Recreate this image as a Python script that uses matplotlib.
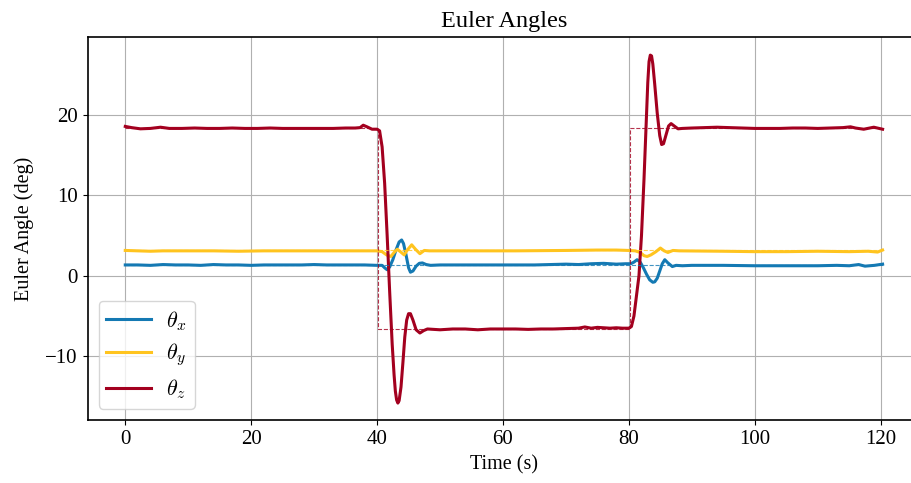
import matplotlib
matplotlib.use("Agg")
import matplotlib.pyplot as plt

plt.rcParams['font.family'] = 'serif'
plt.rcParams['font.serif'] = ['Liberation Serif']
plt.rcParams['mathtext.fontset'] = 'cm'

t_x = [0, 2, 4, 6, 8, 10, 12, 14, 16, 18, 20, 22, 24, 26, 28, 30, 32, 34, 36, 38, 40,
       40.8, 41.2, 41.6, 42.0, 42.5, 43.0, 43.5, 43.9, 44.2, 44.6, 45.0, 45.3, 45.7, 46.2,
       46.7, 47.2, 47.8, 48.5, 50, 55, 60, 65, 70, 72, 74, 76, 78, 79.5, 80.3, 80.8, 81.3,
       81.8, 82.3, 82.8, 83.3, 83.8, 84.1, 84.5, 84.9, 85.3, 85.7, 86.2, 86.9, 87.5, 88.5,
       90, 95, 100, 105, 110, 113, 115, 116.5, 117.5, 119, 120.3]
theta_x = [1.35, 1.35, 1.3, 1.4, 1.35, 1.35, 1.3, 1.4, 1.35, 1.35, 1.3, 1.35, 1.35, 1.35,
           1.35, 1.4, 1.35, 1.35, 1.35, 1.35, 1.3,
           1.3, 1.0, 0.75, 1.1, 2.0, 3.2, 4.2, 4.45, 4.0, 2.6, 1.0, 0.45, 0.6, 1.2,
           1.55, 1.6, 1.4, 1.3, 1.35, 1.35, 1.35, 1.35, 1.45, 1.4, 1.5, 1.55, 1.45, 1.5, 1.5,
           1.7, 2.0, 1.7, 1.0, 0.2, -0.5, -0.8, -0.75, -0.3, 0.6, 1.5, 2.0, 1.6, 1.15, 1.3,
           1.25, 1.3, 1.3, 1.25, 1.25, 1.25, 1.3, 1.25, 1.4, 1.2, 1.3, 1.45]

t_y = [0, 2, 4, 6, 8, 10, 14, 18, 22, 26, 30, 34, 38, 40, 40.8, 41.5, 42.2, 42.7, 43.2,
       43.7, 44.3, 44.8, 45.5, 46.1, 46.8, 47.5, 48.3, 55, 62, 70, 75, 78, 80, 81, 81.8,
       82.4, 82.9, 83.5, 84.3, 85.0, 85.6, 86.2, 87, 88, 95, 100, 105, 110, 115, 118,
       119.5, 120.3]
theta_y = [3.15, 3.1, 3.05, 3.1, 3.1, 3.1, 3.1, 3.05, 3.1, 3.1, 3.1, 3.1, 3.1, 3.1, 3.0,
           2.6, 2.4, 2.9, 3.3, 3.0, 2.6, 3.2, 3.85, 3.3, 2.75, 3.15, 3.1, 3.1, 3.1, 3.15,
           3.2, 3.2, 3.15, 3.1, 2.9, 2.5, 2.4, 2.6, 3.0, 3.45, 3.1, 2.9, 3.15, 3.1, 3.05,
           3.0, 3.0, 3.05, 3.0, 3.05, 2.95, 3.2]

t_z = [0, 1, 2.4, 4, 5.6, 7, 9, 11, 13, 15, 17, 19, 21, 23, 25, 27, 29, 31, 33, 35, 36.5,
       37.3, 37.8, 38.4, 39.2, 40.0, 40.4, 40.8, 41.2, 41.6, 42.0, 42.4, 42.7, 42.9, 43.1,
       43.3, 43.5, 43.8, 44.1, 44.4, 44.7, 45.0, 45.3, 45.7, 46.2, 46.8, 47.4, 48, 50, 52,
       54, 56, 58, 60, 62, 64, 66, 68, 70, 72, 73, 74, 75, 76, 77, 78, 79, 80, 80.4, 80.8,
       81.2, 81.6, 82.0, 82.4, 82.8, 83.0, 83.2, 83.4, 83.6, 83.8, 84.1, 84.5, 84.9, 85.2,
       85.5, 85.9, 86.3, 86.7, 87.2, 87.8, 88.5, 90, 92, 94, 96, 98, 100, 102, 104, 106,
       108, 110, 112, 114, 115.2, 116, 117.3, 118.9, 120.3]
theta_z = [18.55, 18.4, 18.25, 18.3, 18.45, 18.3, 18.3, 18.35, 18.3, 18.3, 18.35, 18.3,
           18.3, 18.35, 18.3, 18.3, 18.3, 18.3, 18.3, 18.35, 18.35,
           18.4, 18.7, 18.5, 18.2, 18.2, 18.0, 16.0, 11.5, 5.0, -2.0, -8.5, -12.3, -14.3,
           -15.4, -15.8, -15.5, -13.8, -10.8, -7.6, -5.5, -4.7, -4.7, -5.5, -6.7, -7.1, -6.8,
           -6.6, -6.7, -6.6, -6.6, -6.7, -6.6, -6.6, -6.6, -6.65, -6.6, -6.6, -6.55, -6.5,
           -6.35, -6.5, -6.4, -6.45, -6.5, -6.45, -6.5, -6.5, -6.3, -5.0, -2.5, 0.0, 5.0,
           12.0, 20.0, 24.0, 26.6, 27.4, 27.3, 26.3, 23.8, 20.2, 17.4, 16.3, 16.4, 17.5, 18.6,
           18.9, 18.6, 18.25, 18.3, 18.35, 18.4, 18.45, 18.4, 18.35, 18.3, 18.3, 18.3, 18.35,
           18.35, 18.3, 18.35, 18.4, 18.5, 18.35, 18.2, 18.45, 18.2]

# commanded attitude (deg)
t_ref = [0, 40.1, 40.1, 80.2, 80.2, 120.3]
ref_x = [1.3, 1.3, 1.3, 1.3, 1.3, 1.3]
ref_y = [3.15, 3.15, 3.15, 3.15, 3.15, 3.15]
ref_z = [18.3, 18.3, -6.6, -6.6, 18.3, 18.3]

c_x = '#1479b3'
c_y = '#ffc41f'
c_z = '#a3001f'

fig = plt.figure(figsize=(9.12, 4.83), dpi=100)
ax = fig.add_axes([87.5 / 912, 63 / 483, (921 - 87.5) / 912, 383 / 483])

ax.plot(t_x, theta_x, color=c_x, lw=2.2, label=r'$\theta_x$')
ax.plot(t_y, theta_y, color=c_y, lw=2.2, label=r'$\theta_y$')
ax.plot(t_z, theta_z, color=c_z, lw=2.2, label=r'$\theta_z$')
ax.plot(t_ref, ref_x, '--', color=c_x, lw=0.8, alpha=0.8)
ax.plot(t_ref, ref_y, '--', color=c_y, lw=0.8, alpha=0.8)
ax.plot(t_ref, ref_z, '--', color=c_z, lw=0.8, alpha=0.8)

ax.set_xlim(-6.0, 126.4)
ax.set_ylim(-17.9, 29.65)
ax.set_xticks([0, 20, 40, 60, 80, 100, 120])
ax.set_yticks([-10, 0, 10, 20])
ax.grid(True, color='#b0b0b0', lw=0.8)
ax.tick_params(labelsize=15)
for s in ax.spines.values():
    s.set_linewidth(1.2)

ax.set_title('Euler Angles', fontsize=17.5, pad=7)
ax.set_xlabel('Time (s)', fontsize=14.5, labelpad=5)
ax.set_ylabel('Euler Angle (deg)', fontsize=14.5, labelpad=8)
ax.legend(loc='lower left', fontsize=16, handlelength=2.0, labelspacing=0.4,
          borderpad=0.35, handletextpad=0.7)

fig.savefig('out.png', dpi=100)
